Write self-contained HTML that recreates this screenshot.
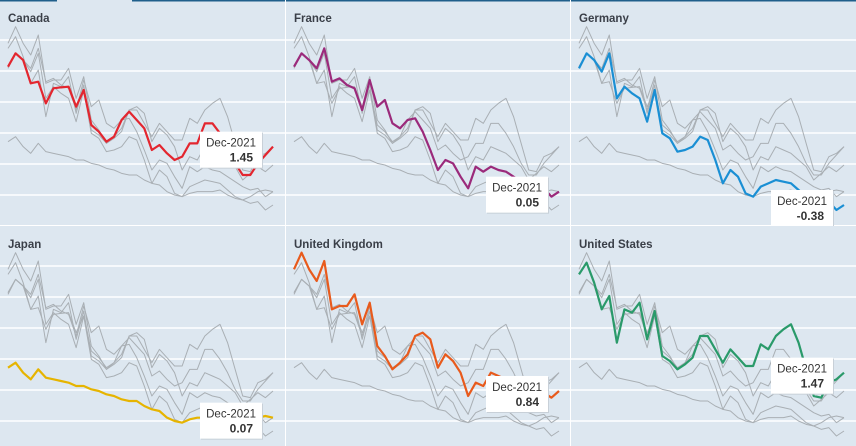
<!DOCTYPE html>
<html><head><meta charset="utf-8">
<style>
body{margin:0;background:#fff;}
svg{display:block;font-family:"Liberation Sans",sans-serif;}
</style></head>
<body>
<svg id="chart" width="856" height="446" viewBox="0 0 856 446"></svg>
<script>
const years=[1986,1987,1988,1989,1990,1991,1992,1993,1994,1995,1996,1997,1998,1999,2000,2001,2002,2003,2004,2005,2006,2007,2008,2009,2010,2011,2012,2013,2014,2015,2016,2017,2018,2019,2020,2021];
const countries=["Canada","France","Germany","Japan","United Kingdom","United States"];
const colors=["#e3262f","#9b2a7b","#1a8fd4","#e6b400","#e85a1c","#2a9a6a"];
const endLabels=["1.45","0.05","-0.38","0.07","0.84","1.47"];
const canada=[4.00,4.40,4.20,3.50,3.55,2.90,3.35,3.38,3.40,2.80,3.30,2.25,2.05,1.75,1.90,2.40,2.65,2.40,2.15,1.50,1.65,1.40,1.20,1.30,1.70,1.70,2.30,2.30,2.00,1.60,1.10,0.75,0.75,1.10,1.35,1.60];
const france=[4.00,4.40,4.20,3.95,4.55,3.55,3.65,3.45,3.35,2.70,3.60,2.80,3.00,2.30,2.15,2.40,2.45,2.05,1.50,0.90,1.20,1.10,0.70,0.35,1.00,0.85,1.00,0.90,0.85,0.70,0.55,0.40,0.30,0.35,0.10,0.25];
const germany=[3.95,4.40,4.20,3.85,4.40,3.05,3.40,3.20,3.05,2.35,3.30,2.00,1.85,1.45,1.50,1.60,1.90,1.80,1.20,0.50,0.90,0.70,0.20,0.10,0.40,0.50,0.60,0.55,0.50,0.30,0.10,0.00,-0.10,-0.05,-0.30,-0.15];
const japan=[1.75,1.90,1.60,1.40,1.70,1.45,1.40,1.35,1.30,1.20,1.20,1.10,1.05,0.95,0.90,0.80,0.75,0.75,0.60,0.50,0.45,0.25,0.15,0.10,0.20,0.25,0.25,0.25,0.30,0.15,0.05,0.00,0.10,0.25,0.30,0.25];
const uk=[4.70,5.20,4.70,4.35,4.95,3.50,3.60,3.60,3.95,3.05,3.70,2.40,2.10,1.70,1.90,2.15,2.70,2.80,2.60,1.75,2.15,1.95,1.60,0.90,1.30,1.20,1.60,1.50,1.40,1.20,1.00,0.60,0.80,1.00,0.85,1.05];
const us=[4.55,4.90,4.30,3.50,3.90,2.50,3.50,3.40,3.70,2.60,3.45,2.10,1.95,1.70,1.85,2.05,2.70,2.70,2.30,1.90,2.30,2.05,1.80,1.80,2.45,2.30,2.70,2.90,3.05,2.50,1.70,0.90,0.85,1.30,1.40,1.60];
const gridValues=[4.8,3.87,2.94,2.01,1.08,0.15];
const series=[canada,france,germany,japan,uk,us];

const NS="http://www.w3.org/2000/svg";
const svg=document.getElementById('chart');
function mk(t,a,p){const e=document.createElementNS(NS,t);for(const k in a)e.setAttribute(k,a[k]);(p||svg).appendChild(e);return e;}
const x=yr=>8+(yr-years[0])/(years[years.length-1]-years[0])*265;
const y=v=>200-v*33.33;
const panels=[[0,0,285,225],[286,0,284,225],[571,0,285,225],[0,226,285,220],[286,226,284,220],[571,226,285,220]];
mk('rect',{x:0,y:0,width:856,height:446,fill:'#ffffff'});
countries.forEach((c,ci)=>{
  const [px,py,pw,ph]=panels[ci];
  const g=mk('g',{transform:`translate(${px},${py})`});
  
  
  const bg=mk('rect',{x:0,y:0,width:pw,height:ph,fill:'#dde7f0'},g);
  
  
  if(ci<3){
    const tl=mk('rect',{x:ci===0?0:0,y:0,width:ci===0?57:pw,height:1.5,fill:'#1f5f8b'},g);
    
    
    if(ci===0){const tl2=mk('rect',{x:132,y:0,width:153,height:1.5,fill:'#1f5f8b'},g);
      
      }
  }
  gridValues.forEach(gv=>{
    const l=mk('line',{x1:0,x2:pw,y1:y(gv),y2:y(gv),stroke:'#ffffff','stroke-width':1.5},g);
    
    
  });
  const t=mk('text',{x:8,y:22,'font-size':11.5,'font-weight':'bold',fill:'#3a3f48'},g);
  t.textContent=c;
  
  
  series.forEach((s,si)=>{
    if(si===ci)return;
    const p=mk('polyline',{points:s.map((v,i)=>x(years[i])+','+y(v)).join(' '),fill:'none',stroke:'#a9afb4','stroke-width':1,'stroke-linejoin':'round'},g);
    
    
  });
  const s=series[ci];
  const hl=mk('polyline',{points:s.map((v,i)=>x(years[i])+','+y(v)).join(' '),fill:'none',stroke:colors[ci],'stroke-width':2.2,'stroke-linejoin':'round'},g);
  
  
  const ey=y(s[s.length-1]);
  const bt=ey-15;
  const tip=mk('g',{},g);
  
  
  mk('rect',{x:201,y:bt+1,width:62,height:36,fill:'#c8d0d8'},tip);
  mk('rect',{x:200,y:bt,width:62,height:36,fill:'#ffffff'},tip);
  const t1=mk('text',{x:256,y:bt+15,'font-size':11.5,fill:'#333','text-anchor':'end'},tip);
  t1.textContent='Dec-2021';
  
  
  const t2=mk('text',{x:253,y:bt+30,'font-size':12,'font-weight':'bold',fill:'#333','text-anchor':'end'},tip);
  t2.textContent=endLabels[ci];
  
  
});
</script>
</body></html>
